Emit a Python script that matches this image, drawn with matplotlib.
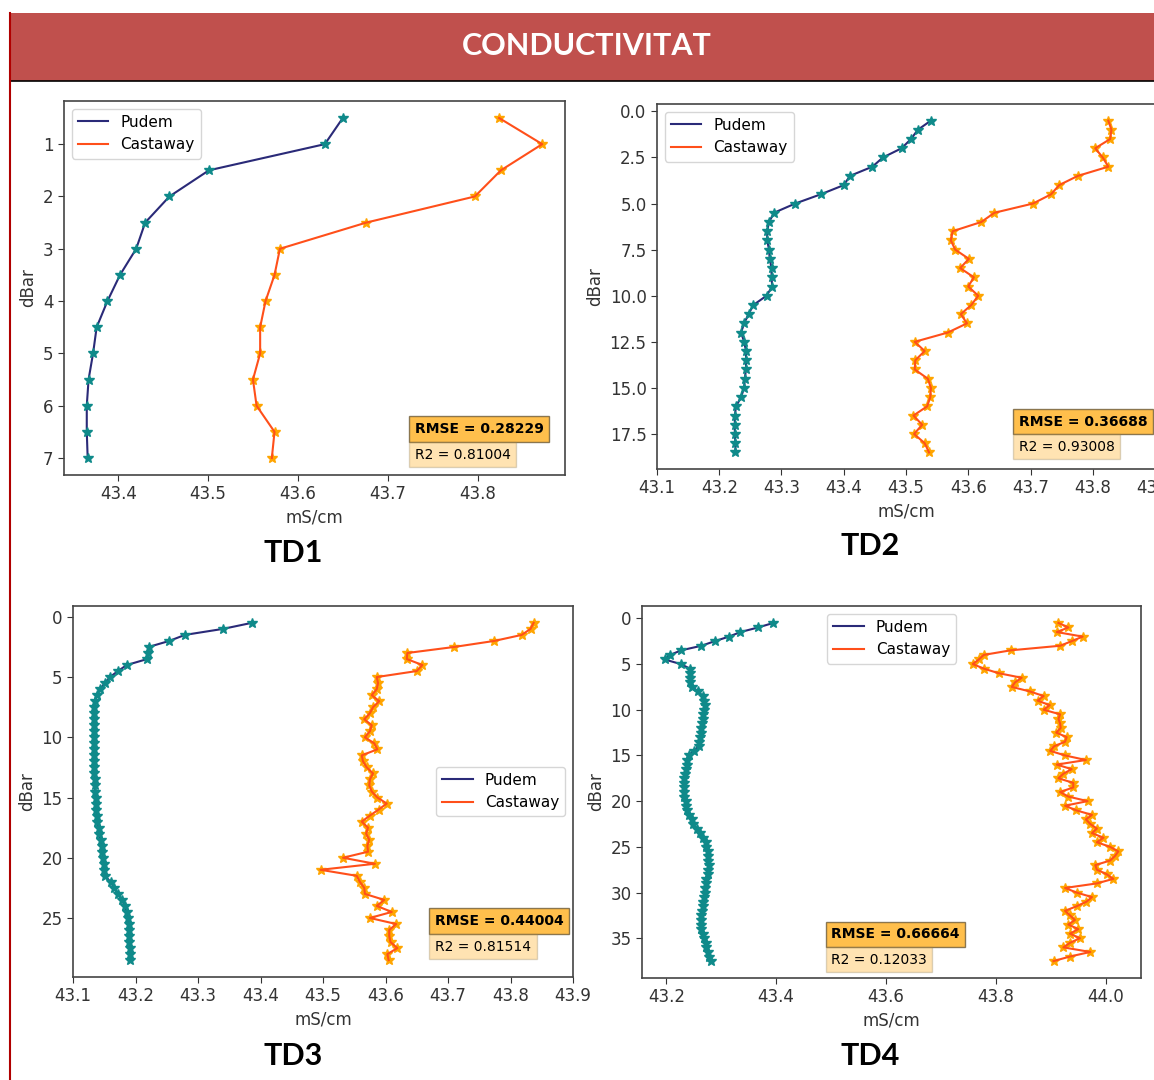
import numpy as np
import matplotlib
matplotlib.use("Agg")
import matplotlib.pyplot as plt
from matplotlib.patches import Rectangle
from matplotlib.lines import Line2D

# ---- data (conductivity profiles, mS/cm, sampled every 0.5 dBar from 0.5) ----
td1_pudem = [43.650, 43.630, 43.501, 43.457, 43.430, 43.420, 43.402, 43.388,
             43.376, 43.372, 43.367, 43.365, 43.365, 43.366]
td1_castaway = [43.824, 43.872, 43.826, 43.797, 43.676, 43.580, 43.574, 43.564,
                43.558, 43.558, 43.550, 43.554, 43.574, 43.571]

td2_pudem = [43.540, 43.519, 43.508, 43.493, 43.463, 43.446, 43.410, 43.400,
             43.363, 43.322, 43.288, 43.280, 43.277, 43.277, 43.280, 43.281,
             43.284, 43.284, 43.285, 43.276, 43.255, 43.247, 43.240, 43.235,
             43.240, 43.243, 43.243, 43.243, 43.241, 43.240, 43.235, 43.227,
             43.225, 43.225, 43.225, 43.226, 43.226]
td2_castaway = [43.825, 43.830, 43.828, 43.804, 43.816, 43.825, 43.776, 43.746,
                43.733, 43.704, 43.642, 43.621, 43.575, 43.572, 43.579, 43.601,
                43.587, 43.609, 43.600, 43.616, 43.605, 43.588, 43.598, 43.567,
                43.514, 43.530, 43.515, 43.514, 43.535, 43.540, 43.539, 43.534,
                43.512, 43.526, 43.513, 43.530, 43.537]

td3_pudem = [43.386, 43.340, 43.279, 43.254, 43.221, 43.220, 43.219, 43.186,
             43.172, 43.159, 43.151, 43.143, 43.138, 43.135, 43.134, 43.133,
             43.133, 43.133, 43.133, 43.133, 43.133, 43.133, 43.134, 43.134,
             43.134, 43.134, 43.135, 43.135, 43.135, 43.136, 43.136, 43.137,
             43.138, 43.139, 43.141, 43.142, 43.144, 43.146, 43.147, 43.148,
             43.149, 43.150, 43.151, 43.160, 43.166, 43.172, 43.178, 43.183,
             43.186, 43.188, 43.189, 43.189, 43.190, 43.190, 43.191, 43.191,
             43.191]
td3_castaway = [43.837, 43.832, 43.818, 43.774, 43.710, 43.635, 43.634, 43.659,
                43.650, 43.586, 43.588, 43.586, 43.578, 43.590, 43.580, 43.575,
                43.566, 43.578, 43.575, 43.567, 43.582, 43.587, 43.562, 43.564,
                43.570, 43.580, 43.575, 43.574, 43.578, 43.587, 43.602, 43.589,
                43.575, 43.562, 43.572, 43.569, 43.574, 43.571, 43.572, 43.532,
                43.583, 43.496, 43.554, 43.559, 43.566, 43.567, 43.598, 43.586,
                43.610, 43.575, 43.617, 43.606, 43.606, 43.608, 43.619, 43.603,
                43.605]

td4_pudem = [43.395, 43.367, 43.335, 43.314, 43.288, 43.264, 43.227, 43.207,
             43.197, 43.226, 43.243, 43.244, 43.244, 43.244, 43.247, 43.258,
             43.266, 43.269, 43.270, 43.269, 43.267, 43.266, 43.265, 43.264,
             43.263, 43.261, 43.260, 43.259, 43.250, 43.241, 43.238, 43.237,
             43.235, 43.234, 43.233, 43.232, 43.232, 43.232, 43.233, 43.235,
             43.236, 43.238, 43.242, 43.246, 43.249, 43.255, 43.261, 43.267,
             43.272, 43.273, 43.275, 43.276, 43.276, 43.277, 43.276, 43.275,
             43.273, 43.272, 43.271, 43.270, 43.269, 43.267, 43.266, 43.265,
             43.264, 43.264, 43.264, 43.264, 43.266, 43.269, 43.272, 43.273,
             43.276, 43.278, 43.281]
td4_castaway = [43.914, 43.932, 43.911, 43.958, 43.938, 43.917, 43.827, 43.778,
                43.769, 43.758, 43.778, 43.805, 43.847, 43.835, 43.829, 43.862,
                43.887, 43.876, 43.898, 43.887, 43.917, 43.914, 43.917, 43.918,
                43.910, 43.929, 43.926, 43.906, 43.899, 43.926, 43.964, 43.911,
                43.938, 43.923, 43.914, 43.941, 43.941, 43.917, 43.932, 43.967,
                43.926, 43.946, 43.975, 43.964, 43.972, 43.984, 43.975, 43.996,
                43.984, 44.008, 44.023, 44.017, 44.008, 43.981, 43.984, 44.002,
                44.014, 43.984, 43.926, 43.947, 43.975, 43.965, 43.947, 43.926,
                43.935, 43.944, 43.932, 43.950, 43.935, 43.953, 43.935, 43.923,
                43.972, 43.935, 43.905]

rmse_vals = ["0.28229", "0.36688", "0.44004", "0.66664"]
r2_vals = ["0.81004", "0.93008", "0.81514", "0.12033"]
names = ["TD1", "TD2", "TD3", "TD4"]

PUDEM_LINE = "#2a2a78"
PUDEM_MARK = "#0f8a8a"
CAST_LINE = "#ff4f1a"
CAST_MARK = "#ffa500"

W, H = 1154, 1080
fig = plt.figure(figsize=(W / 100, H / 100), dpi=100)


def px_rect(left, top, right, bottom):
    return [left / W, 1 - bottom / H, (right - left) / W, (bottom - top) / H]


def panel(rect, pudem, castaway, rmse, r2, txt_xy, leg_loc, xlim=None):
    ax = fig.add_axes(rect)
    depth = np.arange(1, len(pudem) + 1) * 0.5
    ax.plot(pudem, depth, color=PUDEM_LINE, lw=1.5, zorder=2)
    ax.plot(pudem, depth, "*", color=PUDEM_MARK, ms=7, zorder=3)
    ax.plot(castaway, depth, "*", color=CAST_MARK, ms=7, zorder=2)
    ax.plot(castaway, depth, color=CAST_LINE, lw=1.5, zorder=3)
    if xlim is not None:
        ax.set_xlim(*xlim)
    ax.invert_yaxis()
    ax.ticklabel_format(axis="x", useOffset=False)
    ax.tick_params(labelsize=12, colors="#333333", length=4)
    for s in ax.spines.values():
        s.set_color("#444444")
        s.set_linewidth(1.2)
    ax.set_xlabel("mS/cm", fontsize=12, color="#333333")
    ax.set_ylabel("dBar", fontsize=12, color="#333333")
    handles = [Line2D([], [], color=PUDEM_LINE, lw=1.5),
               Line2D([], [], color=CAST_LINE, lw=1.5)]
    ax.legend(handles, ["Pudem", "Castaway"], loc=leg_loc, fontsize=11)
    tx, ty = txt_xy
    ax.text(tx, ty, "RMSE = " + rmse, transform=ax.transAxes, fontsize=10,
            fontweight="bold", va="center",
            bbox=dict(facecolor="orange", edgecolor="#5a4a2a", alpha=0.7))
    ax.text(tx, ty - (ty - 0.0) * 0 - 0.069, "R2 = " + r2, transform=ax.transAxes,
            fontsize=10, va="center",
            bbox=dict(facecolor="orange", edgecolor="#8a7a5a", alpha=0.3))
    return ax


panel(px_rect(64, 101, 565, 475), td1_pudem, td1_castaway, rmse_vals[0],
      r2_vals[0], (0.700, 0.123), "upper left")
panel(px_rect(657, 104, 1155, 469), td2_pudem, td2_castaway, rmse_vals[1],
      r2_vals[1], (0.726, 0.130), "upper left", xlim=(43.1, 43.9))
panel(px_rect(73, 606, 573, 977), td3_pudem, td3_castaway, rmse_vals[2],
      r2_vals[2], (0.724, 0.151), "center right", xlim=(43.1, 43.9))
panel(px_rect(642, 606, 1141, 978), td4_pudem, td4_castaway, rmse_vals[3],
      r2_vals[3], (0.379, 0.118), "upper center")

# header band
fig.patches.append(Rectangle((10 / W, 1 - 81 / H), 1 - 10 / W, 68 / H,
                             transform=fig.transFigure, facecolor="#c0504d",
                             edgecolor="none", zorder=0))
fig.lines.append(Line2D([10 / W, 1], [1 - 81 / H, 1 - 81 / H],
                        transform=fig.transFigure, color="black", lw=1.2))
fig.lines.append(Line2D([9.5 / W, 9.5 / W], [0, 1 - 13 / H],
                        transform=fig.transFigure, color="#b00000", lw=1.5))
fig.text(587 / W, 1 - 46 / H, "CONDUCTIVITAT", color="white", fontsize=22,
         fontweight="bold", ha="center", va="center", family=["Lato", "DejaVu Sans"])

label_pos = [(293, 553), (870, 546), (293, 1056), (870, 1056)]
for name, (x, y) in zip(names, label_pos):
    fig.text(x / W, 1 - y / H, name, fontsize=22, fontweight="bold",
             ha="center", va="center", family=["Lato", "DejaVu Sans"])

fig.savefig("out.png", dpi=100)
